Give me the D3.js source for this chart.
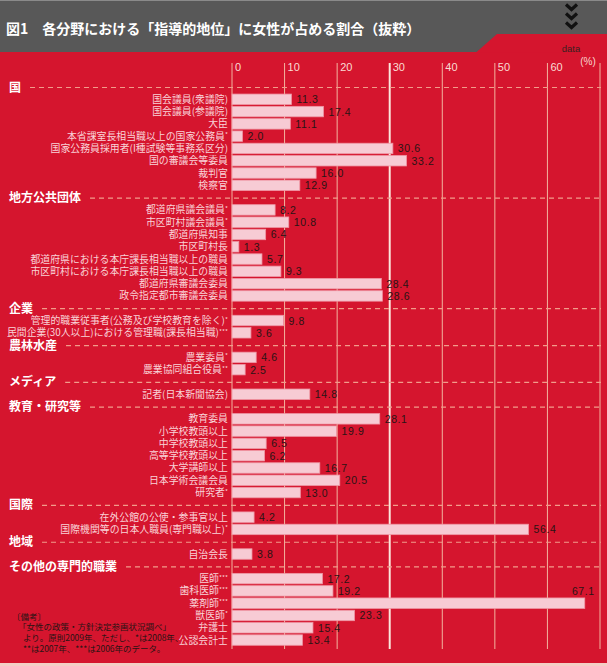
<!DOCTYPE html>
<html><head><meta charset="utf-8">
<script src="https://cdn.jsdelivr.net/npm/d3@7"></script>
<style>
html,body{margin:0;padding:0;background:#d5152e;}
svg{display:block;}
</style></head>
<body>
<svg id="chart" width="607" height="666"></svg>
<script>
// ---------------- data ----------------
const title = "図1　各分野における「指導的地位」に女性が占める割合（抜粋）";
const groups = ["国","地方公共団体","企業","農林水産","メディア","教育・研究等","国際","地域","その他の専門的職業"];
const groupSizes = [8,8,2,2,1,7,2,1,6];
const categories = [
  "国会議員(衆議院)","国会議員(参議院)","大臣","本省課室長相当職以上の国家公務員*","国家公務員採用者(I種試験等事務系区分)","国の審議会等委員","裁判官","検察官",
  "都道府県議会議員*","市区町村議会議員*","都道府県知事","市区町村長","都道府県における本庁課長相当職以上の職員","市区町村における本庁課長相当職以上の職員","都道府県審議会委員","政令指定都市審議会委員",
  "管理的職業従事者(公務及び学校教育を除く)*","民間企業(30人以上)における管理職(課長相当職)***",
  "農業委員*","農業協同組合役員**",
  "記者(日本新聞協会)",
  "教育委員","小学校教頭以上","中学校教頭以上","高等学校教頭以上","大学講師以上","日本学術会議会員","研究者*",
  "在外公館の公使・参事官以上","国際機関等の日本人職員(専門職以上)*",
  "自治会長",
  "医師***","歯科医師***","薬剤師***","獣医師*","弁護士","公認会計士"
];
const values = [
  11.3,17.4,11.1,2.0,30.6,33.2,16.0,12.9,
  8.2,10.8,6.4,1.3,5.7,9.3,28.4,28.6,
  9.8,3.6,
  4.6,2.5,
  14.8,
  28.1,19.9,6.5,6.2,16.7,20.5,13.0,
  4.2,56.4,
  3.8,
  17.2,19.2,67.1,23.3,15.4,13.4
];
const ticks = [0,10,20,30,40,50,60];
const gridMax = 70;
const unitLabel = "(%)";
const sourceTag = "data";
const notes = ["〔備考〕","「女性の政策・方針決定参画状況調べ」","より。原則2009年、ただし、*は2008年、","**は2007年、***は2006年のデータ。"];

// ---------------- build rows ----------------
const rows = [];
let ci = 0;
groups.forEach((g,gi)=>{
  rows.push({id:"h"+gi, type:"header", label:g});
  for(let k=0;k<groupSizes[gi];k++){
    rows.push({id:"r"+ci, type:"bar", label:categories[ci], value:values[ci]});
    ci++;
  }
});

const svg = d3.select("#chart");
const W = 607, H = 666;
const RED = "#d5152e", GRAY = "#585858";
const JP = "'Noto Sans CJK JP','Noto Sans CJK SC',sans-serif";
const NUM = "'Liberation Sans',Arial,sans-serif";

// scales
const x = d3.scaleLinear().domain([0,gridMax]).range([232,600]);
const step = 12.29, firstCenter = 87;
const y = d3.scaleBand().domain(rows.map(r=>r.id))
  .range([firstCenter-step/2, firstCenter-step/2+step*rows.length])
  .paddingInner(0.15).paddingOuter(0.075);
const cy = id => y(id)+y.bandwidth()/2;

// ---------------- background ----------------
svg.append("rect").attr("width",W).attr("height",H).attr("fill","#f4cfc6");
svg.append("rect").attr("x",0).attr("y",0).attr("width",W).attr("height",663).attr("fill",RED);
svg.append("rect").attr("x",0).attr("y",0).attr("width",W).attr("height",52).attr("fill",GRAY);
svg.append("rect").attr("x",0).attr("y",0).attr("width",W).attr("height",1).attr("fill","#8a8a8a");
svg.append("polygon").attr("points","476,52.5 497,34 607,34 607,52.5").attr("fill",RED);

// title
svg.append("text").attr("x",6).attr("y",34).attr("fill","#fff")
  .attr("font-family",JP).attr("font-weight",700).attr("font-size",14).text(title);

// chevrons
[8,17,26].forEach(cyv=>{
  svg.append("path").attr("d",`M${566},${cyv-3.5} L${571.5},${cyv+1.5} L${577},${cyv-3.5}`)
    .attr("fill","none").attr("stroke","#111").attr("stroke-width",3.2);
});

svg.append("text").attr("x",571).attr("y",52).attr("text-anchor","middle")
  .attr("font-family",NUM).attr("font-size",9.5).attr("fill","#3a2020").text(sourceTag);
svg.append("text").attr("x",588).attr("y",65).attr("text-anchor","middle")
  .attr("font-family",NUM).attr("font-size",10).attr("fill","#f8d6cf").text(unitLabel);

// ---------------- grid ----------------
const gridVals = ticks.concat([gridMax]);
svg.append("g").selectAll("line").data(gridVals).join("line")
  .attr("x1",d=>x(d)).attr("x2",d=>x(d))
  .attr("y1",63).attr("y2",649)
  .attr("stroke",d=>d===30?"#fbe6dc":"#f3b59f")
  .attr("stroke-width",d=>d===30?2:1);

svg.append("g").selectAll("text").data(ticks).join("text")
  .attr("x",d=>x(d)+3).attr("y",70.5)
  .attr("font-family",NUM).attr("font-size",11).attr("fill","#fadbd3")
  .text(d=>d);

// ---------------- headers ----------------
const hdr = svg.append("g");
rows.filter(r=>r.type==="header").forEach(r=>{
  const t = hdr.append("text").attr("x",9).attr("y",cy(r.id)+4.5)
    .attr("font-family",JP).attr("font-weight",700).attr("font-size",12)
    .attr("fill","#fff").text(r.label);
  const len = t.node().getComputedTextLength();
  hdr.append("line").attr("x1",9+len+9).attr("x2",601)
    .attr("y1",cy(r.id)+0.5).attr("y2",cy(r.id)+0.5)
    .attr("stroke","#f29c8a").attr("stroke-width",1.2).attr("stroke-dasharray","5,4");
});

// ---------------- bars ----------------
const barRows = rows.filter(r=>r.type==="bar");
svg.append("g").selectAll("rect").data(barRows).join("rect")
  .attr("x",x(0)).attr("y",d=>y(d.id))
  .attr("width",d=>x(d.value)-x(0)).attr("height",y.bandwidth())
  .attr("fill","#f7cbd4").attr("stroke","#ef97a5").attr("stroke-width",0.8);

// category labels
const cl = svg.append("g");
barRows.forEach(r=>{
  const m = r.label.match(/^(.*?)(\**)$/);
  const t = cl.append("text").attr("x",228).attr("y",cy(r.id)+3.5)
    .attr("text-anchor","end").attr("font-family",JP).attr("font-size",9.9)
    .attr("fill","#f9d3d8");
  t.append("tspan").text(m[1]);
  if(m[2]) t.append("tspan").attr("font-size",6.5).attr("dy",-2.5).text(m[2]);
});

// value labels
svg.append("g").selectAll("text").data(barRows).join("text")
  .each(function(d){
    const xe = x(d.value);
    const sel = d3.select(this);
    if(xe + 30 > 600){
      sel.attr("x",xe+10).attr("y",cy(d.id)-step+4).attr("text-anchor","end");
    } else {
      sel.attr("x",xe+5).attr("y",cy(d.id)+4).attr("text-anchor","start");
    }
  })
  .attr("font-family",NUM).attr("font-size",10.5).attr("letter-spacing",0.6)
  .attr("fill","#2a1414").text(d=>d.value.toFixed(1));

// notes
const nx = [12,18,23,23], ny = [620,629.5,640.5,651.5];
svg.append("g").selectAll("text").data(notes).join("text")
  .attr("x",(d,i)=>nx[i]).attr("y",(d,i)=>ny[i])
  .attr("font-family",JP).attr("font-size",8.5).attr("fill","#2a1414").text(d=>d);
</script>
</body></html>
